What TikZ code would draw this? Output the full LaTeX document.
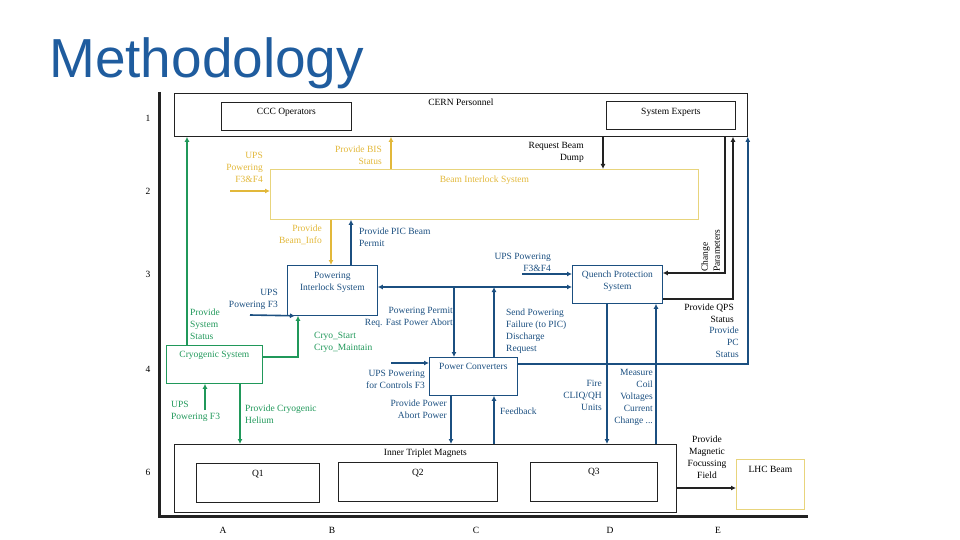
\documentclass[tikz,border=0pt]{standalone}
\usepackage{fontspec}
\setmainfont{Liberation Serif}
\newfontfamily\titlefont{Liberation Sans}
\usetikzlibrary{arrows.meta}
\definecolor{titleblue}{HTML}{1F5C9E}
\definecolor{lineblue}{HTML}{1B4F80}
\definecolor{linegreen}{HTML}{20985A}
\definecolor{lineyellow}{HTML}{E2B83A}
\definecolor{boxyellow}{HTML}{E8D47C}
\definecolor{lineblack}{HTML}{222222}

\tikzset{
  box/.style={draw=lineblack, line width=0.8pt, inner sep=0pt, anchor=north west},
  txt/.style={font=\fontsize{9.5}{12}\selectfont, inner sep=0pt},
  tip/.style={-{Latex[length=5pt,width=5pt]}},
  barr/.style={tip, draw=lineblue, line width=1.6pt},
  garr/.style={tip, draw=linegreen, line width=1.5pt},
  yarr/.style={tip, draw=lineyellow, line width=1.5pt},
  karr/.style={tip, draw=lineblack, line width=1.5pt},
}

\begin{document}
\begin{tikzpicture}[x=1pt, y=-1pt]
\useasboundingbox (0,0) rectangle (960,540);

% Title
    \node[anchor=base west, inner sep=0pt, text=titleblue,
      font=\titlefont\fontsize{55}{60}\selectfont] (title) at (49,78) {Methodology};

% Frame
    \draw[lineblack, line width=3pt] (159,92) -- (159,516) -- (808,516);

    % Row numbers
    \node[txt] (r1) at (148,118) {1};
    \node[txt] (r2) at (148,191) {2};
    \node[txt] (r3) at (148,274) {3};
    \node[txt] (r4) at (148,369) {4};
    \node[txt] (r6) at (148,472) {6};
    % Column letters
    \node[txt] (cA) at (223,530) {A};
    \node[txt] (cB) at (332,530) {B};
    \node[txt] (cC) at (476,530) {C};
    \node[txt] (cD) at (610,530) {D};
    \node[txt] (cE) at (718,530) {E};

% Level 1: personnel
    \node[box, minimum width=573pt, minimum height=43pt,
      label={[txt, anchor=north, yshift=-6pt]north:CERN Personnel}] (cern) at (174,93) {};
    \node[box, minimum width=130pt, minimum height=28pt,
      label={[txt, anchor=north, yshift=-6pt]north:CCC Operators}] (ccc) at (221,102) {};
    \node[box, minimum width=129pt, minimum height=28pt,
      label={[txt, anchor=north, yshift=-7pt]north:System Experts}] (experts) at (606,101) {};

% Level 2: beam interlock
    \node[box, draw=boxyellow, minimum width=428pt, minimum height=50pt,
      label={[txt, text=lineyellow, anchor=north, yshift=-7pt]north:Beam Interlock System}] (bis) at (270,169) {};

% Level 3/4: protection systems
    \node[box, draw=lineblue, minimum width=90pt, minimum height=50pt,
      label={[txt, text=lineblue, align=center, anchor=north, yshift=-7pt]north:Powering\\Interlock System}] (pis) at (287,265) {};
    \node[box, draw=linegreen, minimum width=96pt, minimum height=38pt,
      label={[txt, text=linegreen, anchor=north, yshift=-6pt]north:Cryogenic System}] (cryo) at (166,345) {};
    \node[box, draw=lineblue, minimum width=90pt, minimum height=38pt,
      label={[txt, text=lineblue, align=center, anchor=north, yshift=-6pt]north:Quench Protection\\System}] (qps) at (572,265) {};
    \node[box, draw=lineblue, minimum width=88pt, minimum height=38pt,
      label={[txt, text=lineblue, anchor=north, yshift=-6pt]north:Power Converters}] (pc) at (429,357) {};

% Level 6: magnets
    \node[box, minimum width=502pt, minimum height=68pt,
      label={[txt, anchor=north, yshift=-5pt]north:Inner Triplet Magnets}] (itm) at (174,444) {};
    \node[box, minimum width=123pt, minimum height=39pt,
      label={[txt, anchor=north, yshift=-7pt]north:Q1}] (q1) at (196,463) {};
    \node[box, minimum width=159pt, minimum height=39pt,
      label={[txt, anchor=north, yshift=-7pt]north:Q2}] (q2) at (338,462) {};
    \node[box, minimum width=127pt, minimum height=39pt,
      label={[txt, anchor=north, yshift=-6pt]north:Q3}] (q3) at (530,462) {};
    \node[box, draw=boxyellow, minimum width=68pt, minimum height=50pt,
      label={[txt, anchor=north, yshift=-7pt]north:LHC Beam}] (lhc) at (736,459) {};

% Free ends
    \coordinate (upsbisin) at (230,191);
    \coordinate (upspisin) at (250,315);
    \coordinate (upscryoin) at (205,410);
    \coordinate (upsqpsin) at (522,274);
    \coordinate (upspcin) at (391,363);
    \coordinate (busA) at (454,287);
    \coordinate (busB) at (494,287);

% Connector labels
    \node[txt, text=lineyellow, align=right, anchor=north east] (bisstat) at (382,146) {Provide BIS\\Status};
    \node[txt, text=lineyellow, align=right, anchor=north east] (upsbis) at (263,152) {UPS\\Powering\\F3\&F4};
    \node[txt, align=right, anchor=north east] (dump) at (584,142) {Request Beam\\Dump};
    \node[txt, text=lineyellow, align=right, anchor=north east] (beaminfo) at (322,225) {Provide\\Beam\_Info};
    \node[txt, text=lineblue, align=left, anchor=north west] (picperm) at (359,228) {Provide PIC Beam\\Permit};
    \node[txt, text=lineblue, align=right, anchor=north east] (upspis) at (278,289) {UPS\\Powering F3};
    \node[txt, text=linegreen, align=left, anchor=north west] (sysstat) at (190,309) {Provide\\System\\Status};
    \node[txt, text=linegreen, align=left, anchor=north west] (cryostart) at (314,332) {Cryo\_Start\\Cryo\_Maintain};
    \node[txt, text=lineblue, align=right, anchor=north east] (permit) at (453,307) {Powering Permit\\Req. Fast Power Abort};
    \node[txt, text=lineblue, align=right, anchor=north east] (upsqps) at (551,253) {UPS Powering\\F3\&F4};
    \node[txt, text=lineblue, align=left, anchor=north west] (failure) at (506,309) {Send Powering\\Failure (to PIC)\\Discharge\\Request};
    \node[txt, align=right, anchor=north east] (qpsstat) at (734,304) {Provide QPS\\Status};
    \node[txt, text=lineblue, align=right, anchor=north east] (pcstat) at (739,327) {Provide\\PC\\Status};
    \node[txt, rotate=90, align=left, anchor=north west] (chpar) at (701,272) {Change\\Parameters};
    \node[txt, text=lineblue, align=right, anchor=north east] (upspc) at (425,370) {UPS Powering\\for Controls F3};
    \node[txt, text=lineblue, align=right, anchor=north east] (abort) at (447,400) {Provide Power\\Abort Power};
    \node[txt, text=lineblue, align=left, anchor=north west] (feedback) at (500,408) {Feedback};
    \node[txt, text=lineblue, align=right, anchor=north east] (fire) at (602,380) {Fire\\CLIQ/QH\\Units};
    \node[txt, text=lineblue, align=right, anchor=north east] (measure) at (653,369) {Measure\\Coil\\Voltages\\Current\\Change ...};
    \node[txt, text=linegreen, align=left, anchor=north west] (upscryo) at (171,401) {UPS\\Powering F3};
    \node[txt, text=linegreen, align=left, anchor=north west] (helium) at (245,405) {Provide Cryogenic\\Helium};
    \node[txt, align=center, anchor=north] (focus) at (707,436) {Provide\\Magnetic\\Focussing\\Field};

% Yellow connectors
    \draw[yarr] (bis.north -| 391,0) -- (cern.south -| 391,0);
    \draw[yarr] (upsbisin) -- (bis.west |- upsbisin);
    \draw[yarr] (bis.south -| 331,0) -- (pis.north -| 331,0);

% Green connectors
    \draw[garr] (cryo.north -| 187,0) -- (cern.south -| 187,0);
    \draw[garr] (cryo.east |- 0,357) -| (pis.south -| 298,0);
    \draw[garr] (upscryoin) -- (cryo.south -| upscryoin);
    \draw[garr] (cryo.south -| 240,0) -- (itm.north -| 240,0);

% Blue connectors
    \draw[barr] (pis.north -| 351,0) -- (bis.south -| 351,0);
    \draw[barr] (upspisin) -- (pis.south -| 295,0);
    \draw[barr, {Latex[length=5pt,width=5pt]}-{Latex[length=5pt,width=5pt]}] (pis.east |- busA) -- (qps.west |- busA);
    \draw[barr] (busA) -- (pc.north -| busA);
    \draw[barr] (pc.north -| busB) -- (busB);
    \draw[barr] (upsqpsin) -- (qps.west |- upsqpsin);
    \draw[barr] (upspcin) -- (pc.west |- upspcin);
    \draw[barr] (pc.east |- 0,364) -| (cern.south east);
    \draw[barr] (qps.south -| 607,0) -- (itm.north -| 607,0);
    \draw[barr] (itm.north -| 656,0) -- (qps.south -| 656,0);
    \draw[barr] (pc.south -| 451,0) -- (itm.north -| 451,0);
    \draw[barr] (itm.north -| 494,0) -- (pc.south -| 494,0);

% Black connectors
    \draw[karr] (cern.south -| 603,0) -- (bis.north -| 603,0);
    \draw[karr] (qps.east |- 0,299) -| (cern.south -| 733,0);
    \draw[karr] (cern.south -| 725,0) |- (qps.east |- 0,273);
    \draw[karr] (itm.east |- 0,488) -- (lhc.west |- 0,488);

\end{tikzpicture}
\end{document}
